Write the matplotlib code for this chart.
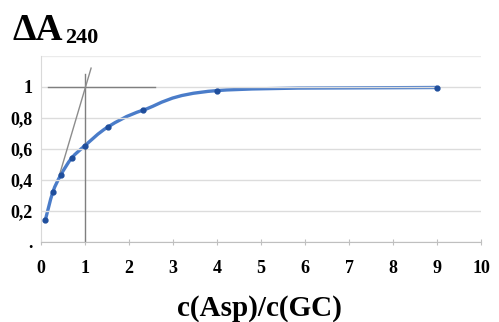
import numpy as np
import matplotlib
matplotlib.use("Agg")
import matplotlib.pyplot as plt
from matplotlib.path import Path
from matplotlib.patches import PathPatch

# data
ratio = [0.1, 0.27, 0.45, 0.7, 1.0, 1.52, 2.33, 4.0, 9.0]
dA = [0.14, 0.32, 0.43, 0.54, 0.62, 0.74, 0.85, 0.975, 0.995]
x_ticks = list(range(0, 11))
y_ticks = [0, 0.2, 0.4, 0.6, 0.8, 1.0]
y_labels = [".", "0,2", "0,4", "0,6", "0,8", "1"]
tangent_x = [0.42, 1.14]
tangent_y = [0.43, 1.12]

plt.rcParams['font.family'] = ['Liberation Serif', 'DejaVu Serif']

fig = plt.figure(figsize=(4.99, 3.22), dpi=100)
ax = fig.add_axes([0.082, 0.249, 0.882, 0.578])
ax.set_xlim(0, 10)
ax.set_ylim(0, 1.2)

for s in ["top", "right"]:
    ax.spines[s].set_visible(False)
ax.spines["left"].set_color("#d9d9d9")
ax.spines["bottom"].set_color("#bfbfbf")

ax.yaxis.grid(True, color="#dcdcdc", lw=1)
ax.set_yticks(y_ticks)
ax.set_yticklabels(y_labels, fontsize=13, fontweight="bold")
ax.axhline(1.2, color="#ebebeb", lw=1)
ax.tick_params(axis="y", length=0, pad=6)
ax.set_xticks(x_ticks)
ax.set_xticklabels([str(v) for v in x_ticks], fontsize=13, fontweight="bold")
ax.tick_params(axis="x", direction="inout", length=4, color="#bfbfbf", pad=11)

# construction lines
ax.plot([0.15, 2.6], [1, 1], color="#7f7f7f", lw=1)
ax.plot([1, 1], [0, 1.08], color="#7f7f7f", lw=1)
ax.plot(tangent_x, tangent_y, color="#8c8c8c", lw=1)

# smoothed curve (Catmull-Rom as cubic Bezier)
xs = np.array(ratio)
ys = np.array(dA)
px = np.concatenate([[xs[0]], xs, [xs[-1]]])
py = np.concatenate([[ys[0]], ys, [ys[-1]]])
verts = [(xs[0], ys[0])]
codes = [Path.MOVETO]
for i in range(1, len(px) - 2):
    c1 = (px[i] + (px[i + 1] - px[i - 1]) / 6, py[i] + (py[i + 1] - py[i - 1]) / 6)
    c2 = (px[i + 1] - (px[i + 2] - px[i]) / 6, py[i + 1] - (py[i + 2] - py[i]) / 6)
    verts += [c1, c2, (px[i + 1], py[i + 1])]
    codes += [Path.CURVE4] * 3
ax.add_patch(PathPatch(Path(verts, codes), fill=False, edgecolor="#4a7cc9", lw=2.4))
ax.plot(ratio, dA, "o", color="#1f4e9c", ms=3.5, zorder=5)

fig.text(0.026, 0.876, "\u0394A", fontsize=27, fontweight="bold")
fig.text(0.13, 0.868, "240", fontsize=16, fontweight="bold")
fig.text(0.52, 0.02, "c(Asp)/c(GC)", fontsize=21, fontweight="bold", ha="center")

fig.savefig("out.png", dpi=100)
